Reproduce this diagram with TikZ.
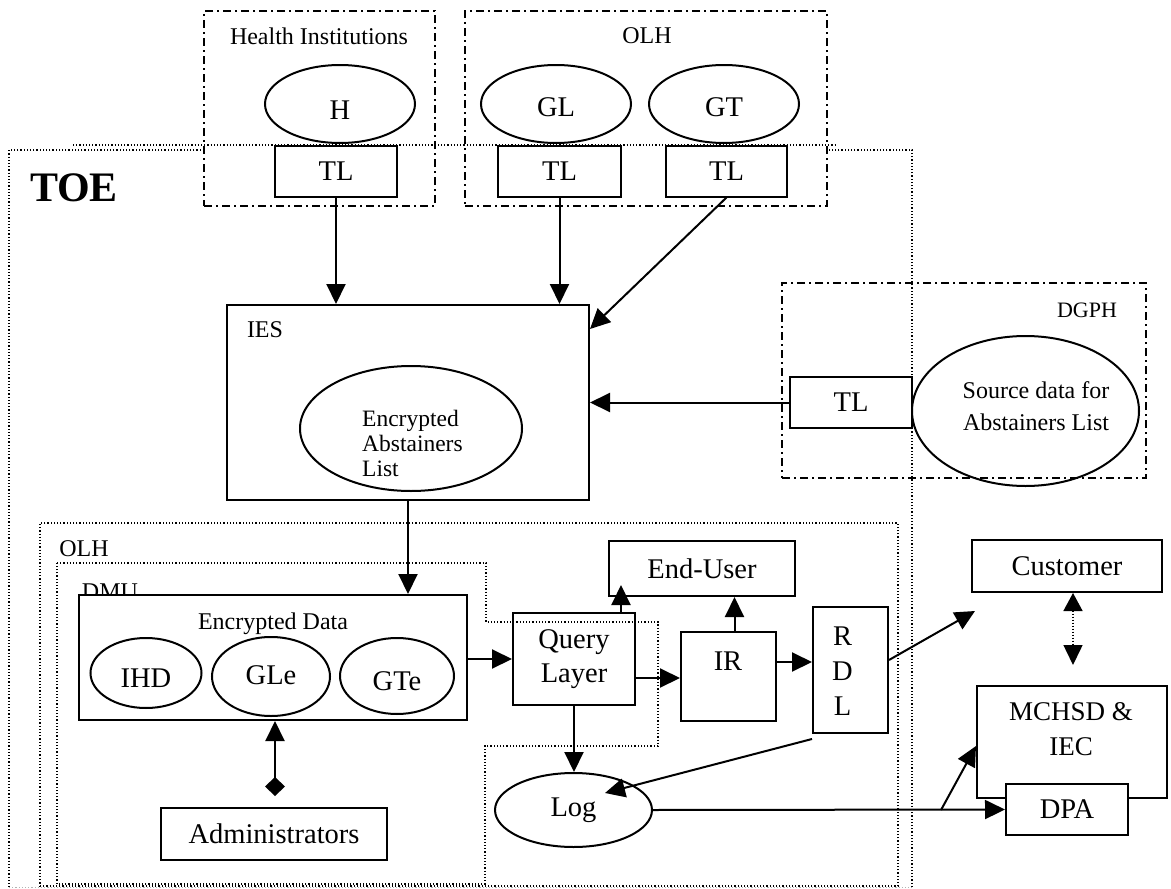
\documentclass[tikz,border=0pt]{standalone}
\usepackage{fontspec}
\setmainfont{Liberation Serif}
\usetikzlibrary{shapes.geometric,arrows.meta}
\newcommand{\myBig}{\fontsize{28.5}{34}\selectfont}
\newcommand{\mySmall}{\fontsize{24}{29}\selectfont}
\begin{document}
\begin{tikzpicture}[x=1pt,y=-1pt,
 box/.style={draw,line width=2pt,rectangle,inner sep=0pt,font=\myBig,align=center},
 oval/.style={draw,ellipse,line width=2pt,inner sep=0pt,font=\myBig},
 ddash/.style={draw,line width=1.8pt,dash pattern=on 8pt off 4pt on 2pt off 4pt,inner sep=0pt},
 dots/.style={draw,line width=1.2pt,dash pattern=on 1.2pt off 2pt,inner sep=0pt},
 arr/.style={line width=2pt,-{Triangle[length=20pt,width=19pt]}},
 lbl/.style={font=\mySmall,inner sep=0pt},
 biglbl/.style={font=\myBig,inner sep=0pt,align=center}]

\useasboundingbox (0,0) rectangle (1171,889);

% TOE outline
\draw[dots] (204,150) -- (9,150) -- (9,887);
\draw[dots] (912,887) -- (912,150) -- (827,150);
\draw[dots,gray!60,line width=1pt] (9,887) -- (912,887);
\draw[dots] (73,145) -- (837,145);
\node[font=\fontsize{42}{46}\selectfont\bfseries,inner sep=0pt] (toe) at (74,188) {TOE};

% Health Institutions
\node[ddash,minimum width=231pt,minimum height=195pt] (hi) at (319.5,108.5) {};
\node[lbl] (hil) at (319,36) {Health Institutions};
\node[oval,minimum width=150pt,minimum height=78pt,label={[biglbl,yshift=-6pt]center:H}] (h) at (340,104) {};
\node[box,minimum width=122pt,minimum height=51pt] (tlh) at (336,171) {TL};

% OLH (top)
\node[ddash,minimum width=362pt,minimum height=195pt] (olht) at (646,108.5) {};
\node[lbl] (olhtl) at (647,36) {OLH};
\node[oval,minimum width=150pt,minimum height=78pt,label={[biglbl,yshift=-3.5pt]center:GL}] (gl) at (556,104) {};
\node[oval,minimum width=150pt,minimum height=78pt,label={[biglbl,yshift=-3.5pt]center:GT}] (gt) at (724,104) {};
\node[box,minimum width=123pt,minimum height=51pt] (tlgl) at (559.5,171) {TL};
\node[box,minimum width=121pt,minimum height=51pt] (tlgt) at (726.5,171) {TL};

% IES
\node[box,minimum width=362pt,minimum height=195pt] (ies) at (408,402.5) {};
\node[lbl] (iesl) at (265,330) {IES};
\node[oval,minimum width=222pt,minimum height=125pt] (eal) at (411,428.5) {};
\node[lbl,align=left,anchor=west,font=\fontsize{23.5}{25}\selectfont] (ealt) at (362,443) {Encrypted\\Abstainers\\List};

% DGPH
\node[ddash,minimum width=364pt,minimum height=195pt] (dgph) at (964,380.5) {};
\node[lbl,font=\fontsize{22}{26}\selectfont] (dgphl) at (1087,310) {DGPH};
\node[box,minimum width=122pt,minimum height=51pt] (tld) at (851,402.5) {TL};
\node[oval,minimum width=227pt,minimum height=150pt] (src) at (1025.5,411) {};
\node[lbl,align=center,font=\fontsize{24}{32}\selectfont] (srct) at (1036,406) {Source data for\\Abstainers List};

% OLH (inner) and DMU
\node[dots,minimum width=858pt,minimum height=363pt] (olhi) at (469,704.5) {};
\node[lbl] (olhil) at (84,549) {OLH};
\draw[dots] (57,563) -- (486,563) -- (486,622) -- (658,622) -- (658,746) -- (485,746) -- (485,884) -- (57,884) -- cycle;
\node[lbl] (dmul) at (110,592) {DMU};

% Encrypted data
\node[box,fill=white,minimum width=388pt,minimum height=125pt] (ed) at (273,657.5) {};
\node[lbl] (edl) at (273,623.5) {Encrypted Data};
\node[oval,minimum width=111pt,minimum height=70pt,label={[biglbl,yshift=-5pt]center:IHD}] (ihd) at (146,673) {};
\node[oval,minimum width=118pt,minimum height=79pt,label={[biglbl,yshift=1pt]center:GLe}] (gle) at (271,676.5) {};
\node[oval,minimum width=114pt,minimum height=76pt,label={[biglbl,yshift=-5pt]center:GTe}] (gte) at (397,676) {};

\node[box,minimum width=226pt,minimum height=52pt] (adm) at (274,834) {Administrators};

% Query side
\node[box,minimum width=122pt,minimum height=92pt] (ql) at (574,659) {Query\\Layer};
\node[box,minimum width=186pt,minimum height=55pt] (eu) at (702,568.5) {End-User};
\node[box,minimum width=95pt,minimum height=89pt] (ir) at (728.5,676.5) {};
\node[biglbl] (irl) at (728,661.5) {IR};
\node[box,minimum width=75pt,minimum height=126pt] (rdl) at (850.5,670) {};
\node[biglbl,font=\fontsize{28.5}{35}\selectfont] (rdlt) at (842.5,671) {R\\D\\L};
\node[oval,minimum width=157pt,minimum height=74pt] (log) at (573.5,810) {Log};

% Right side
\node[box,minimum width=190pt,minimum height=52pt] (cust) at (1067,566) {Customer};
\node[box,minimum width=190pt,minimum height=112pt] (mch) at (1072,742) {};
\node[biglbl,font=\fontsize{27}{35}\selectfont] (mchl) at (1071,729) {MCHSD \&\\IEC};
\node[box,fill=white,minimum width=122pt,minimum height=51pt] (dpa) at (1067,809.5) {DPA};

% Connectors
\draw[arr] (tlh.south) -- (tlh.south |- ies.north);
\draw[arr] (tlgl.south) -- (tlgl.south |- ies.north);
\draw[arr] (tlgt.south) -- ([yshift=-25pt]ies.north east);
\draw[arr] (tld.west) -- (tld.west -| ies.east);
\draw[arr] (ies.south) -- (ies.south |- ed.north);
\coordinate (admtop) at (275,796);
\draw[line width=2pt,{Diamond[length=19pt,width=20pt]}-{Triangle[length=20pt,width=19pt]}] (admtop) -- (admtop |- ed.south);
\draw[arr] (ql.west -| ed.east) -- (ql.west);
\draw[arr] ([yshift=-19pt]ql.east) -- ([yshift=-19pt]ql.east -| ir.west);
\coordinate (qleu) at (621,585);
\draw[arr] (ql.north -| qleu) -- (qleu);
\draw[arr] ([xshift=6pt]ir.north) -- ([xshift=6pt]ir.north |- eu.south);
\draw[arr] ([yshift=14.5pt]ir.east) -- ([yshift=14.5pt]ir.east -| rdl.west);
\draw[arr] (ql.south) -- (ql.south |- log.north);
\coordinate (login) at (605,793);
\draw[arr] ([yshift=-5pt]rdl.south west) -- (login);
\coordinate (custin) at (975,611);
\draw[arr] ([yshift=10pt]rdl.east) -- (custin);
\draw[arr] (log.east) -- (dpa.west);
\coordinate (br) at (941,810);
\draw[arr] (br) -- ([yshift=-4pt]mch.west);
\coordinate (mchtop) at (1073,665);
\draw[line width=1.5pt,dash pattern=on 1.5pt off 1.5pt,{Triangle[length=18pt,width=19pt]}-{Triangle[length=20pt,width=19pt]}] ([xshift=6pt]cust.south) -- (mchtop);
\end{tikzpicture}
\end{document}
